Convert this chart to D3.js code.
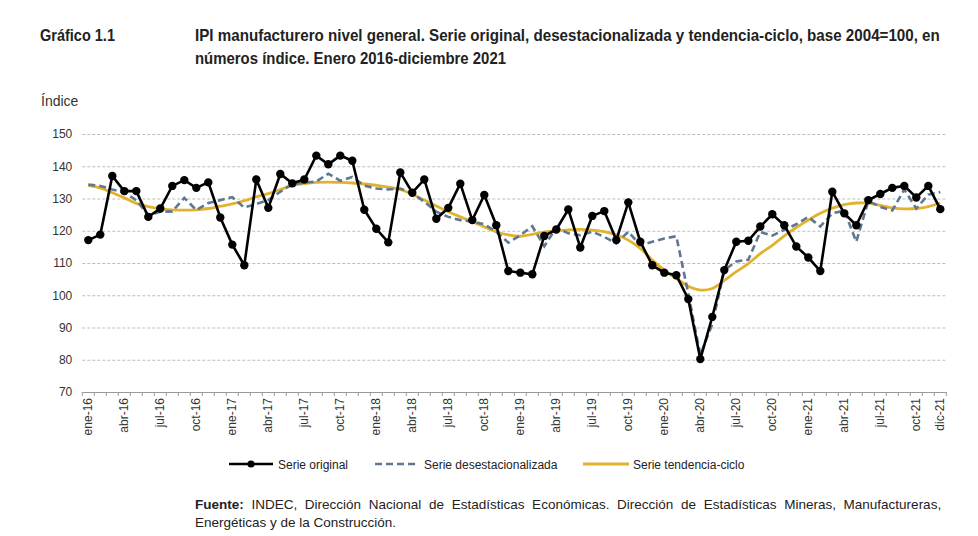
<!DOCTYPE html>
<html><head><meta charset="utf-8">
<script src="https://cdn.jsdelivr.net/npm/d3@7"></script>
<style>
body{margin:0;background:#fff;}
svg{display:block;}
.cond{font-family:"Liberation Sans Narrow","Arial Narrow","Liberation Sans",Arial,sans-serif;}
.reg{font-family:"Liberation Sans",Arial,sans-serif;}
</style></head>
<body>
<svg id="c" width="978" height="536"></svg>
<script>
const monthNames = ["ene","feb","mar","abr","may","jun","jul","ago","sep","oct","nov","dic"];
const years = [16,17,18,19,20,21];
const months = [];
years.forEach(y => monthNames.forEach(m => months.push(m + "-" + y)));

const original = [117.1,118.8,137.0,132.3,132.3,124.3,126.9,133.9,135.7,133.3,135.0,124.1,
  115.7,109.3,135.9,127.1,137.6,134.7,135.9,143.3,140.6,143.3,141.7,126.5,
  120.6,116.4,138.1,131.8,135.9,123.7,127.1,134.6,123.3,131.1,121.7,107.5,
  107.0,106.5,118.4,120.4,126.6,114.8,124.6,126.1,117.1,128.8,116.6,109.3,
  107.0,106.2,98.8,80.2,93.3,107.8,116.6,116.9,121.3,125.1,121.7,115.1,
  111.7,107.5,132.1,125.4,121.7,129.5,131.4,133.3,133.9,130.3,133.9,126.7];

const desest = [134.3,133.9,132.8,131.8,129.5,124.8,125.9,126.0,130.2,126.4,128.6,129.5,
  130.4,127.2,128.3,129.5,132.1,134.5,134.9,135.3,137.7,135.5,136.7,134.0,
  133.1,132.8,133.1,131.6,129.0,125.9,124.3,123.3,122.8,122.0,119.7,116.3,
  118.6,121.4,115.2,121.0,119.2,118.6,119.7,118.1,116.1,119.7,115.5,116.6,
  117.6,118.3,100.5,81.5,91.0,107.8,110.5,111.0,119.6,118.5,120.3,122.0,
  124.3,121.3,125.4,126.2,116.6,129.2,127.4,126.3,132.8,126.9,131.2,132.0];

const tendencia = [134.0,133.3,131.8,130.2,128.5,127.5,126.8,126.5,126.4,126.5,126.9,127.6,
  128.3,129.3,130.5,131.5,132.8,134.0,134.6,135.0,135.1,135.0,134.8,134.5,
  134.1,133.5,132.8,131.3,129.5,127.7,125.9,124.3,122.8,121.2,119.7,118.7,
  118.3,118.9,119.6,120.0,120.3,120.4,120.2,119.7,118.7,117.1,114.5,110.9,
  107.8,105.2,102.8,101.6,102.1,104.6,107.3,109.8,112.9,115.5,118.4,121.0,
  123.3,125.4,127.0,128.1,128.6,128.6,127.9,127.1,126.8,126.9,127.5,128.6];

const yTicks = [70,80,90,100,110,120,130,140,150];
const xLabelIdx = [0,3,6,9,12,15,18,21,24,27,30,33,36,39,42,45,48,51,54,57,60,63,66,69,71];

const svg = d3.select("#c");
const L = 82.3, R = 946.3, T = 134, B = 392;

const x = d3.scaleBand().domain(months).range([L, R]);
const y = d3.scaleLinear().domain([70,150]).range([B, T]);
const cx = m => x(m) + x.bandwidth()/2;

// place a text at (tx,ty) and squeeze it horizontally to width w with a transform
function fitText(txt, tx, ty, w, size) {
  const t = svg.append("text").attr("class","cond")
    .attr("font-size",size).attr("font-weight","bold").attr("fill","#222").text(txt);
  const nat = t.node().getComputedTextLength();
  const s = Math.min(1, w / nat);
  t.attr("transform", `translate(${tx},${ty}) scale(${s.toFixed(4)},1)`);
  return t;
}

// title
fitText("Gráfico 1.1", 40, 41, 75, 16);
fitText("IPI manufacturero nivel general. Serie original, desestacionalizada y tendencia-ciclo, base 2004=100, en", 195, 41, 745, 16);
fitText("números índice. Enero 2016-diciembre 2021", 195, 64, 311, 16);

svg.append("text").attr("class","reg").attr("x",41).attr("y",106)
  .attr("font-size",14).attr("fill","#333").text("Índice");

// grid
const grid = svg.append("g").attr("transform",`translate(${L},0)`)
  .call(d3.axisLeft(y).tickValues(yTicks.filter(v=>v>70)).tickSize(-(R-L-1)).tickFormat(""));
grid.select(".domain").remove();
grid.selectAll("line").attr("stroke","#bdbdbd").attr("stroke-dasharray","3,2").attr("stroke-width",1);

// y labels
const ya = svg.append("g").attr("transform",`translate(${L-10},0)`)
  .call(d3.axisLeft(y).tickValues(yTicks).tickSize(0).tickPadding(0));
ya.select(".domain").remove();
ya.selectAll("text").attr("class","reg").attr("font-size",12).attr("fill","#333");

// x axis
const xa = svg.append("g").attr("transform",`translate(0,${B})`)
  .call(d3.axisBottom(x).tickSize(0).tickFormat(""));
xa.select(".domain").attr("stroke","#999").attr("stroke-width",1.2);
const tickPos = months.map(m => x(m)).concat([R]);
xa.selectAll(".mt").data(tickPos).enter().append("line")
  .attr("x1",d=>d).attr("x2",d=>d).attr("y1",0).attr("y2",4)
  .attr("stroke","#999").attr("stroke-width",1);
xa.selectAll(".xl").data(xLabelIdx).enter().append("text")
  .attr("class","reg")
  .attr("transform",i=>`translate(${cx(months[i])+4},6) rotate(-90)`)
  .attr("text-anchor","end").attr("font-size",12).attr("fill","#333")
  .text(i=>months[i]);

// lines
const line = d3.line().x((d,i)=>cx(months[i])).y(d=>y(d));
svg.append("path").datum(tendencia).attr("fill","none").attr("stroke","#E2B22C")
  .attr("stroke-width",2.8).attr("d", d3.line().x((d,i)=>cx(months[i])).y(d=>y(d)).curve(d3.curveCatmullRom.alpha(0.5)));
svg.append("path").datum(desest).attr("fill","none").attr("stroke","#5E7891")
  .attr("stroke-width",2.6).attr("stroke-dasharray","7,4").attr("d", line);
svg.append("path").datum(original).attr("fill","none").attr("stroke","#000")
  .attr("stroke-width",2.6).attr("d", line);
svg.selectAll(".dot").data(original).enter().append("circle")
  .attr("cx",(d,i)=>cx(months[i])).attr("cy",d=>y(d)).attr("r",4.2).attr("fill","#000");

// legend
const lg = svg.append("g").attr("class","reg");
const ly = 464;
lg.append("line").attr("x1",229).attr("x2",273).attr("y1",ly).attr("y2",ly).attr("stroke","#000").attr("stroke-width",2.6);
lg.append("circle").attr("cx",251).attr("cy",ly).attr("r",3.6).attr("fill","#000");
lg.append("text").attr("x",278).attr("y",ly+4.5).attr("font-size",12).attr("fill","#222").text("Serie original");
lg.append("line").attr("x1",375).attr("x2",419).attr("y1",ly).attr("y2",ly).attr("stroke","#5E7891").attr("stroke-width",2.6).attr("stroke-dasharray","7,4");
lg.append("text").attr("x",424).attr("y",ly+4.5).attr("font-size",12).attr("fill","#222").text("Serie desestacionalizada");
lg.append("line").attr("x1",583).attr("x2",629).attr("y1",ly).attr("y2",ly).attr("stroke","#E2B22C").attr("stroke-width",2.8);
lg.append("text").attr("x",633).attr("y",ly+4.5).attr("font-size",12).attr("fill","#222").text("Serie tendencia-ciclo");

// source (first line justified via word spacing)
const src = svg.append("text").attr("class","reg").attr("x",195).attr("y",509).attr("font-size",13.5).attr("fill","#222");
src.append("tspan").attr("font-weight","bold").text("Fuente:");
src.append("tspan").text(" INDEC, Dirección Nacional de Estadísticas Económicas. Dirección de Estadísticas Mineras, Manufactureras,");
const natural = src.node().getComputedTextLength();
const target = 750;
if (natural < target) src.attr("word-spacing", ((target - natural) / 12).toFixed(2));
svg.append("text").attr("class","reg").attr("x",195).attr("y",527).attr("font-size",13.5).attr("fill","#222")
  .text("Energéticas y de la Construcción.");
</script>
</body></html>
